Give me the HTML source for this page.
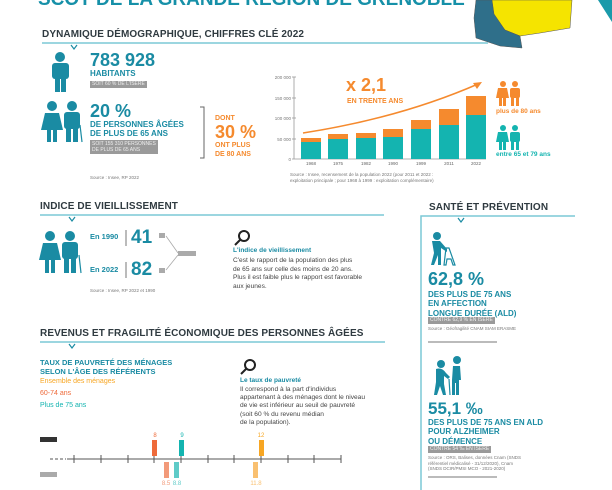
<!DOCTYPE html>
<html><head><meta charset="utf-8"><style>
*{margin:0;padding:0;box-sizing:border-box}
body{width:612px;height:490px;overflow:hidden;background:#fff;position:relative;font-family:"Liberation Sans",sans-serif}
.a{position:absolute;white-space:nowrap;line-height:1}
.t{color:#1a8ba3;font-weight:bold}
.o{color:#f58a2e;font-weight:bold}
.h{color:#2f3a40;font-weight:bold;font-size:10px;letter-spacing:0.1px}
.g{background:#9a9a9a;color:#eee;font-size:5px;padding:1px 2px}
.s{font-size:4.5px;color:#777}
.b{font-size:6.6px;color:#444;line-height:1.3}
</style></head><body>

<div class="a t" style="left:38px;top:-10px;font-size:19px;color:#1690a8">SCOT DE LA GRANDE RÉGION DE GRENOBLE</div>

<svg class="a" style="left:0;top:0" width="612" height="490">
 <polygon points="478,0 572,0 570,28 540,33 520,36 505,30 490,12" fill="#f5e400" stroke="#555" stroke-width="0.5"/>
 <polygon points="476,0 492,0 494,14 505,30 520,36 522,48 500,46 476,38 474,18" fill="#2f6f8a" stroke="#555" stroke-width="0.5"/>
 <polygon points="598,0 612,0 612,22" fill="#1a9aaa"/>
 <line x1="42" y1="43" x2="488" y2="43" stroke="#7cc8d6" stroke-width="1.5"/>
 <path d="M71 45 l3 4 l3 -4" stroke="#1a8ba3" stroke-width="1.2" fill="none"/>
 <line x1="40" y1="215" x2="384" y2="215" stroke="#7cc8d6" stroke-width="1.5"/>
 <path d="M69 217 l3 4 l3 -4" stroke="#1a8ba3" stroke-width="1.2" fill="none"/>
 <line x1="40" y1="342" x2="385" y2="342" stroke="#7cc8d6" stroke-width="1.5"/>
 <path d="M69 344 l3 4 l3 -4" stroke="#1a8ba3" stroke-width="1.2" fill="none"/>
 <polyline points="421,490 421,216 575,216" stroke="#7cc8d6" stroke-width="1.5" fill="none"/>
 <path d="M458 218 l3 4 l3 -4" stroke="#1a8ba3" stroke-width="1.2" fill="none"/>

 <g fill="#1a8ba3">
  <circle cx="60" cy="57" r="5"/>
  <rect x="52" y="63" width="17" height="16" rx="3"/>
  <rect x="55" y="76" width="5" height="16"/><rect x="61" y="76" width="5" height="16"/>
 </g>
 <g fill="#1a8ba3">
  <circle cx="52" cy="106" r="5"/><path d="M45 113 h14 l4 17 h-22z"/><rect x="47" y="128" width="4" height="14"/><rect x="53" y="128" width="4" height="14"/>
  <circle cx="72" cy="106" r="5"/><rect x="64" y="112" width="16" height="17" rx="3"/><rect x="66" y="127" width="5" height="15"/><rect x="73" y="127" width="5" height="15"/>
  <line x1="80" y1="125" x2="82" y2="142" stroke="#1a8ba3" stroke-width="1.2"/>
 </g>
 <path d="M200 107 h4 v51 h-4" stroke="#666" stroke-width="1" fill="none"/>

 <line x1="294" y1="77" x2="294" y2="159" stroke="#999" stroke-width="0.8"/>
 <g stroke="#999" stroke-width="0.8"><line x1="292" y1="77" x2="296" y2="77"/><line x1="292" y1="98" x2="296" y2="98"/><line x1="292" y1="118" x2="296" y2="118"/><line x1="292" y1="139" x2="296" y2="139"/><line x1="292" y1="159" x2="486" y2="159"/></g>
 <g font-size="4.5" fill="#777" text-anchor="end" font-family="Liberation Sans">
  <text x="291" y="79">200 000</text><text x="291" y="100">150 000</text><text x="291" y="120">100 000</text><text x="291" y="141">50 000</text><text x="291" y="161">0</text>
 </g>
 <g fill="#f58a2e">
  <rect x="301" y="138" width="20" height="4"/><rect x="328" y="134" width="20" height="5"/><rect x="356" y="133" width="20" height="5"/><rect x="383" y="129" width="20" height="8"/><rect x="411" y="120" width="20" height="9"/><rect x="439" y="109" width="20" height="16"/><rect x="466" y="96" width="20" height="19"/>
 </g>
 <g fill="#14b4b0">
  <rect x="301" y="142" width="20" height="17"/><rect x="328" y="139" width="20" height="20"/><rect x="356" y="138" width="20" height="21"/><rect x="383" y="137" width="20" height="22"/><rect x="411" y="129" width="20" height="30"/><rect x="439" y="125" width="20" height="34"/><rect x="466" y="115" width="20" height="44"/>
 </g>
 <g font-size="4.5" fill="#666" text-anchor="middle" font-family="Liberation Sans">
  <text x="311" y="165">1968</text><text x="338" y="165">1975</text><text x="366" y="165">1982</text><text x="393" y="165">1990</text><text x="421" y="165">1999</text><text x="449" y="165">2011</text><text x="476" y="165">2022</text>
 </g>
 <path d="M303 133 Q400 118 478 84" stroke="#f58a2e" stroke-width="1.5" fill="none"/>
 <polygon points="482,82 473,83 477,89" fill="#f58a2e"/>
 <g fill="#f58a2e">
  <circle cx="503" cy="84" r="3"/><path d="M498 88 h9 l2 10 h-13z"/><rect x="499" y="97" width="3" height="9"/><rect x="503" y="97" width="3" height="9"/>
  <circle cx="515" cy="84" r="3"/><rect x="510" y="88" width="10" height="10" rx="2"/><rect x="511" y="97" width="3" height="9"/><rect x="516" y="97" width="3" height="9"/>
 </g>
 <g fill="#14b4b0">
  <circle cx="503" cy="128" r="3"/><path d="M498 132 h9 l2 10 h-13z"/><rect x="499" y="141" width="3" height="9"/><rect x="503" y="141" width="3" height="9"/>
  <circle cx="515" cy="128" r="3"/><rect x="510" y="132" width="10" height="10" rx="2"/><rect x="511" y="141" width="3" height="9"/><rect x="516" y="141" width="3" height="9"/>
 </g>

 <g fill="#1a8ba3">
  <circle cx="50" cy="236" r="5"/><path d="M43 243 h14 l4 17 h-22z"/><rect x="45" y="258" width="4" height="15"/><rect x="51" y="258" width="4" height="15"/>
  <circle cx="70" cy="236" r="5"/><rect x="62" y="242" width="16" height="17" rx="3"/><rect x="64" y="257" width="5" height="16"/><rect x="71" y="257" width="5" height="16"/>
  <line x1="79" y1="255" x2="81" y2="273" stroke="#1a8ba3" stroke-width="1.2"/>
 </g>
 <line x1="126" y1="230" x2="126" y2="246" stroke="#555" stroke-width="0.8"/>
 <line x1="126" y1="262" x2="126" y2="278" stroke="#555" stroke-width="0.8"/>
 <rect x="159" y="233" width="6" height="5" fill="#aaa"/><rect x="159" y="268" width="6" height="5" fill="#aaa"/>
 <rect x="178" y="251" width="18" height="5" fill="#aaa"/>
 <path d="M166 236 L178 253 M166 270 L178 255" stroke="#aaa" stroke-width="0.8" fill="none"/>
 <g stroke="#222" stroke-width="2" fill="none"><circle cx="244" cy="236" r="5"/><line x1="240" y1="240" x2="235" y2="245"/>
 <circle cx="250" cy="365" r="5"/><line x1="246" y1="369" x2="241" y2="374"/></g>

 <line x1="50" y1="459" x2="66" y2="459" stroke="#555" stroke-width="1" stroke-dasharray="3,2"/>
 <line x1="67" y1="459" x2="341" y2="459" stroke="#555" stroke-width="1"/>
 <g stroke="#555" stroke-width="1">
  <line x1="74" y1="455" x2="74" y2="463"/><line x1="101" y1="455" x2="101" y2="463"/><line x1="128" y1="455" x2="128" y2="463"/><line x1="154" y1="455" x2="154" y2="463"/><line x1="181" y1="455" x2="181" y2="463"/><line x1="208" y1="455" x2="208" y2="463"/><line x1="234" y1="455" x2="234" y2="463"/><line x1="261" y1="455" x2="261" y2="463"/><line x1="288" y1="455" x2="288" y2="463"/><line x1="314" y1="455" x2="314" y2="463"/><line x1="341" y1="455" x2="341" y2="463"/>
 </g>
 <rect x="40" y="437" width="17" height="5" fill="#333"/>
 <rect x="40" y="472" width="17" height="5" fill="#aaa"/>
 <rect x="152" y="440" width="5" height="16" fill="#ee6a3a"/>
 <rect x="179" y="440" width="5" height="16" fill="#14b4b0"/>
 <rect x="259" y="440" width="5" height="16" fill="#f7a623"/>
 <rect x="164" y="462" width="5" height="16" fill="#f29a7a"/>
 <rect x="174" y="462" width="5" height="16" fill="#5fcbc8"/>
 <rect x="253" y="462" width="5" height="16" fill="#f9c070"/>
 <g font-size="6" font-family="Liberation Sans" text-anchor="middle">
  <text x="155" y="437" fill="#ee6a3a">8</text><text x="182" y="437" fill="#14b4b0">9</text><text x="261" y="437" fill="#f7a623">12</text>
  <text x="166" y="485" fill="#f29a7a">8.5</text><text x="177" y="485" fill="#5fcbc8">8.8</text><text x="256" y="485" fill="#f9c070">11.8</text>
 </g>

 <g fill="#1a8ba3">
  <circle cx="437" cy="236" r="4"/><path d="M432 241 h8 l7 8 v3 l-6 -4 v17 h-3 v-10 l-4 10 h-3 l3 -12z"/>
  <path d="M446 248 l3 0 l6 17 h-2 l-2 -6 h-4 l-1 6 h-2z" fill="none" stroke="#1a8ba3" stroke-width="1.2"/>
  <circle cx="441" cy="364" r="4"/><path d="M436 369 q6 -2 10 4 l4 4 -2 2 -4 -3 v8 l2 11 h-3 l-3 -9 -3 9 h-3 l2 -13z"/>
  <line x1="449" y1="379" x2="450" y2="395" stroke="#1a8ba3" stroke-width="1.2"/>
  <circle cx="457" cy="360" r="4"/><path d="M453 366 h7 l1 14 h-2 v15 h-3 v-12 h-1 v12 h-3 v-15z"/>
 </g>
 <line x1="428" y1="342" x2="497" y2="342" stroke="#777" stroke-width="1"/>
 <line x1="428" y1="477" x2="497" y2="477" stroke="#777" stroke-width="1"/>
</svg>

<div class="a h" style="left:42px;top:30px">DYNAMIQUE DÉMOGRAPHIQUE, CHIFFRES CLÉ 2022</div>
<div class="a t" style="left:90px;top:51px;font-size:18px">783 928</div>
<div class="a t" style="left:90px;top:70px;font-size:8px">HABITANTS</div>
<div class="a g" style="left:90px;top:81px">SOIT 60 % DE L'ISÈRE</div>
<div class="a t" style="left:90px;top:102px;font-size:18px">20 %</div>
<div class="a t" style="left:90px;top:120px;font-size:8px;line-height:9px">DE PERSONNES ÂGÉES<br>DE PLUS DE 65 ANS</div>
<div class="a g" style="left:90px;top:140px;line-height:6px">SOIT 155 310 PERSONNES<br>DE PLUS DE 65 ANS</div>
<div class="a s" style="left:90px;top:176px">Source : Insee, RP 2022</div>
<div class="a o" style="left:215px;top:115px;font-size:7px">DONT</div>
<div class="a o" style="left:215px;top:123px;font-size:18px">30 %</div>
<div class="a o" style="left:215px;top:141px;font-size:7px;line-height:9px">ONT PLUS<br>DE 80 ANS</div>
<div class="a o" style="left:346px;top:76px;font-size:18px">x 2,1</div>
<div class="a o" style="left:347px;top:98px;font-size:7px">EN TRENTE ANS</div>
<div class="a o" style="left:496px;top:109px;font-size:6.5px">plus de 80 ans</div>
<div class="a" style="left:496px;top:152px;font-size:6.5px;color:#14b4b0;font-weight:bold">entre 65 et 79 ans</div>
<div class="a s" style="left:290px;top:172px;line-height:6px">Source : Insee, recensement de la population 2022 (pour 2011 et 2022 :<br>exploitation principale ; pour 1968 à 1999 : exploitation complémentaire)</div>

<div class="a h" style="left:40px;top:202px">INDICE DE VIEILLISSEMENT</div>
<div class="a t" style="left:90px;top:233px;font-size:7.5px">En 1990</div>
<div class="a t" style="left:131px;top:228px;font-size:19px">41</div>
<div class="a t" style="left:90px;top:266px;font-size:7.5px">En 2022</div>
<div class="a t" style="left:131px;top:260px;font-size:19px">82</div>
<div class="a s" style="left:90px;top:289px">Source : Insee, RP 2022 et 1990</div>
<div class="a t" style="left:233px;top:248px;font-size:6.5px">L'indice de vieillissement</div>
<div class="a b" style="left:233px;top:257px">C'est le rapport de la population des plus<br>de 65 ans sur celle des moins de 20 ans.<br>Plus il est faible plus le rapport est favorable<br>aux jeunes.</div>

<div class="a h" style="left:40px;top:329px">REVENUS ET FRAGILITÉ ÉCONOMIQUE DES PERSONNES ÂGÉES</div>
<div class="a t" style="left:40px;top:358px;font-size:7.5px;line-height:9px">TAUX DE PAUVRETÉ DES MÉNAGES<br>SELON L'ÂGE DES RÉFÉRENTS</div>
<div class="a" style="left:40px;top:378px;font-size:7px;color:#f7a623">Ensemble des ménages</div>
<div class="a" style="left:40px;top:390px;font-size:7px;color:#ee6a3a">60-74 ans</div>
<div class="a" style="left:40px;top:402px;font-size:7px;color:#14b4b0">Plus de 75 ans</div>
<div class="a t" style="left:240px;top:378px;font-size:6.5px">Le taux de pauvreté</div>
<div class="a b" style="left:240px;top:386px;line-height:1.25">Il correspond à la part d'individus<br>appartenant à des ménages dont le niveau<br>de vie est inférieur au seuil de pauvreté<br>(soit 60 % du revenu médian<br>de la population).</div>

<div class="a h" style="left:429px;top:203px">SANTÉ ET PRÉVENTION</div>
<div class="a t" style="left:428px;top:270px;font-size:18px">62,8 %</div>
<div class="a t" style="left:428px;top:290px;font-size:8px;line-height:9.3px">DES PLUS DE 75 ANS<br>EN AFFECTION<br>LONGUE DURÉE (ALD)</div>
<div class="a g" style="left:428px;top:317px">CONTRE 62,9 % EN ISÈRE</div>
<div class="a s" style="left:428px;top:327px">Source : Géofragilité CNAM SIAM ERASME</div>
<div class="a t" style="left:428px;top:400px;font-size:17px">55,1 ‰</div>
<div class="a t" style="left:428px;top:418px;font-size:8px;line-height:9.3px">DES PLUS DE 75 ANS EN ALD<br>POUR ALZHEIMER<br>OU DÉMENCE</div>
<div class="a g" style="left:428px;top:446px">CONTRE 54 ‰ EN ISÈRE</div>
<div class="a s" style="left:428px;top:455px;line-height:5.5px">Source : ORS, Balises, données Cnam (SNDS<br>référentiel médicalisé - 31/12/2020), Cnam<br>(SNDS DCIR/PMSI MCO - 2021-2020)</div>
</body></html>
